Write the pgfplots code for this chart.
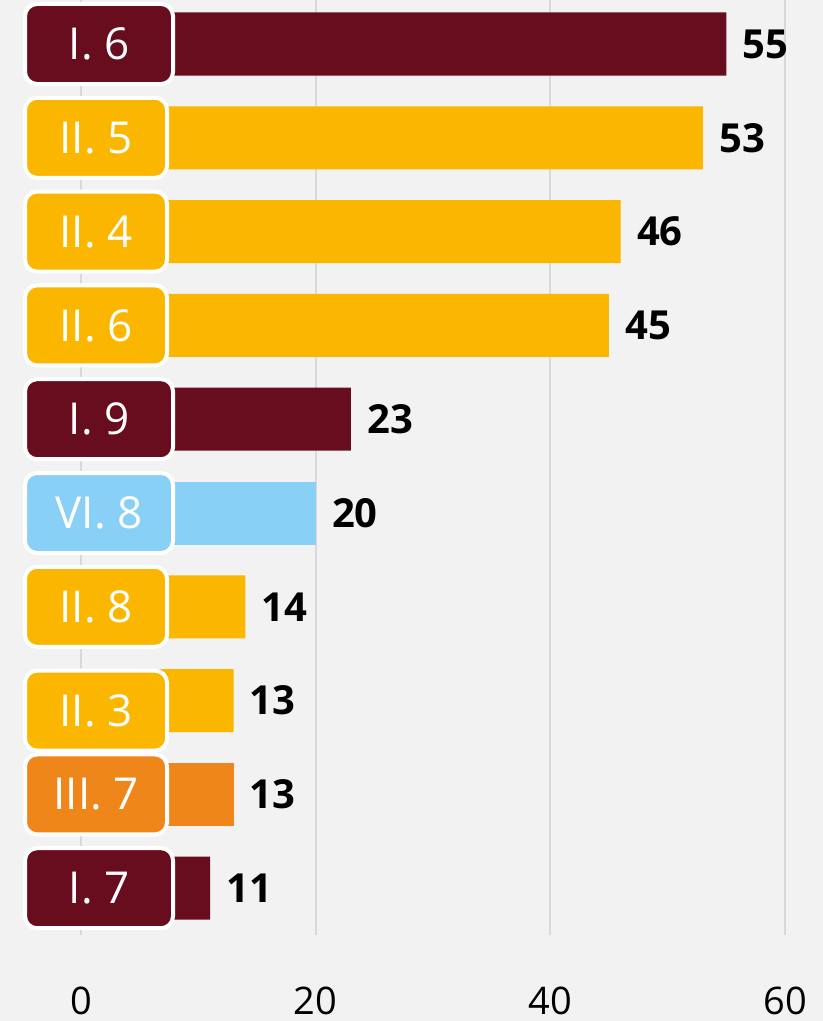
\documentclass[border=0pt]{standalone}
\usepackage{fontspec}
\setmainfont{Open Sans}
\usepackage{pgfplots}
\pgfplotsset{compat=1.18}
\definecolor{bgc}{HTML}{F2F2F2}
\definecolor{maroon}{HTML}{670D1D}
\definecolor{amber}{HTML}{FBB600}
\definecolor{sky}{HTML}{88D0F5}
\definecolor{orng}{HTML}{EF861A}
\definecolor{gridc}{HTML}{D9D9D9}
\tikzset{boxlab/.style={anchor=west, draw=white, line width=2pt, rounded corners=6pt,
    minimum height=40pt, outer sep=0pt, text=white, font=\fontsize{22}{26}\selectfont}}
\begin{document}
\begin{tikzpicture}
\fill[bgc] (0,0) rectangle (411.5pt,510.5pt);
\begin{axis}[at={(0pt,43pt)}, anchor=south west, scale only axis,
  width=411.5pt, height=467.5pt,
  xmin=-6.903, xmax=63.24, ymin=-0.469, ymax=9.499, y dir=reverse,
  xbar, bar width=31.5pt, bar shift=0pt,
  xtick={0,20,40,60}, ytick=\empty,
  xmajorgrids, grid style={draw=gridc, line width=1pt},
  axis line style={draw=none}, major tick length=0pt,
  xticklabel style={anchor=center, yshift=-33pt, font=\fontsize{19}{22}\selectfont, text=black},
  /pgf/number format/assume math mode=true,
  nodes near coords,
  every node near coord/.append style={anchor=west, inner sep=0pt, xshift=8pt,
    font=\fontsize{20}{24}\selectfont\bfseries, text=black},
  clip=false,
]
\addplot[fill=maroon, draw=none] coordinates {(55,0) (23,4) (11,9)};
\addplot[fill=amber, draw=none] coordinates {(53,1) (46,2) (45,3) (14,6) (13,7)};
\addplot[fill=sky, draw=none] coordinates {(20,5)};
\addplot[fill=orng, draw=none] coordinates {(13,8)};
\node[boxlab, fill=maroon, minimum width=74pt] at (axis cs:-4.77,0) {I. 6};
\node[boxlab, fill=amber, minimum width=71pt] at (axis cs:-4.77,1) {II. 5};
\node[boxlab, fill=amber, minimum width=71pt] at (axis cs:-4.77,2) {II. 4};
\node[boxlab, fill=amber, minimum width=71pt] at (axis cs:-4.77,3) {II. 6};
\node[boxlab, fill=maroon, minimum width=74pt] at (axis cs:-4.77,4) {I. 9};
\node[boxlab, fill=sky, minimum width=74pt] at (axis cs:-4.77,5) {VI. 8};
\node[boxlab, fill=amber, minimum width=71pt] at (axis cs:-4.77,6) {II. 8};
\node[boxlab, fill=amber, minimum width=71pt] at (axis cs:-4.77,7.107) {II. 3};
\node[boxlab, fill=orng, minimum width=71pt] at (axis cs:-4.77,8) {III. 7};
\node[boxlab, fill=maroon, minimum width=74pt] at (axis cs:-4.77,9) {I. 7};
\end{axis}
\pgfresetboundingbox
\path[use as bounding box] (0,0) rectangle (411.5pt,510.5pt);
\end{tikzpicture}
\end{document}
